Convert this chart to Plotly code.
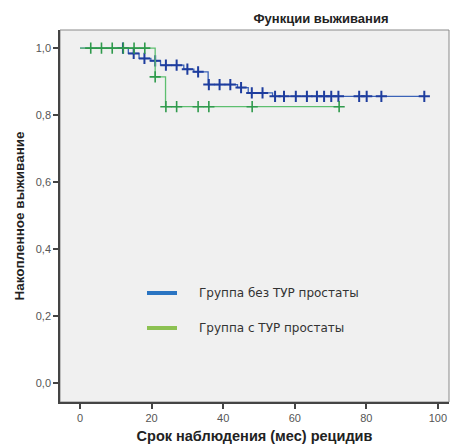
import plotly.graph_objects as go

# ---- data ----
blue_name = "Группа без ТУР простаты"
green_name = "Группа с ТУР простаты"

blue_step_t = [0, 13.5, 16.5, 19.8, 22.5, 29, 31.8, 35.8, 44, 47, 53.8, 96.2]
blue_step_s = [1.0, 0.984, 0.969, 0.962, 0.949, 0.937, 0.929, 0.891, 0.882, 0.866, 0.856, 0.856]
blue_cens_t = [12, 15, 18, 21, 24, 27, 30, 33, 36, 39, 42, 45, 48, 51,
               54.5, 57, 60.3, 63.4, 66.2, 68.2, 70.2, 72.2, 78, 80.1, 84.2, 96.2]

green_step_t = [0, 21, 23.9, 72.4]
green_step_s = [1.0, 0.914, 0.825, 0.825]
green_cens_t = [3, 6, 9, 12.1, 15.1, 18.1, 21, 24, 27, 33, 36, 48.1, 72.4]

y_tick_vals = [0.0, 0.2, 0.4, 0.6, 0.8, 1.0]
y_tick_text = ["0,0", "0,2", "0,4", "0,6", "0,8", "1,0"]
x_tick_vals = [0, 20, 40, 60, 80, 100]

title_text = "Функции выживания"
x_title = "Срок наблюдения (мес) рецидив"
y_title = "Накопленное выживание"


def step_at(ts, ss, t):
    v = ss[0]
    for ti, si in zip(ts, ss):
        if ti <= t:
            v = si
    return v


blue_line_c = "#3b63b8"
blue_mark_c = "#1e3d9e"
green_line_c = "#5dbf6f"
green_mark_c = "#2f9a4c"
legend_blue = "#2a74c2"
legend_green = "#8cc152"

fig = go.Figure()
fig.add_trace(go.Scatter(x=blue_step_t, y=blue_step_s, mode="lines", line_shape="hv",
                         line=dict(color=blue_line_c, width=1.3), showlegend=False, hoverinfo="skip"))
fig.add_trace(go.Scatter(x=blue_cens_t, y=[step_at(blue_step_t, blue_step_s, t) for t in blue_cens_t],
                         mode="markers", marker=dict(symbol="cross-thin", size=8,
                         line=dict(color=blue_mark_c, width=2.0)), showlegend=False))
fig.add_trace(go.Scatter(x=green_step_t, y=green_step_s, mode="lines", line_shape="hv",
                         line=dict(color=green_line_c, width=1.3), showlegend=False, hoverinfo="skip"))
fig.add_trace(go.Scatter(x=green_cens_t, y=[step_at(green_step_t, green_step_s, t) for t in green_cens_t],
                         mode="markers", marker=dict(symbol="cross-thin", size=8,
                         line=dict(color=green_mark_c, width=1.6)), showlegend=False))

W, H = 450, 444
L, R, T, B = 60, 1, 30, 42

shapes = []
annotations = []
legend_items = [(blue_name, legend_blue, 293), (green_name, legend_green, 328)]
for name, col, yy in legend_items:
    shapes.append(dict(type="line", xref="paper", yref="paper",
                       x0=(147 - L) / (W - L - R), x1=(177 - L) / (W - L - R),
                       y0=(H - B - yy) / (H - T - B), y1=(H - B - yy) / (H - T - B),
                       line=dict(color=col, width=4)))
    annotations.append(dict(text=name, xref="paper", yref="paper",
                            x=(197 - L) / (W - L - R), y=(H - B - yy) / (H - T - B),
                            xanchor="left", yanchor="middle", showarrow=False,
                            font=dict(family="DejaVu Sans", size=12, color="#333333")))

fig.update_layout(
    width=W, height=H,
    margin=dict(l=L, r=R, t=T, b=B, pad=0),
    paper_bgcolor="white",
    plot_bgcolor="#f0f0f0",
    font=dict(family="Liberation Sans, Arial", size=11, color="#444444"),
    title=dict(text="<b>" + title_text + "</b>", x=321 / W, xanchor="center", xref="container",
               y=1 - 18 / H, yanchor="middle", yref="container",
               font=dict(family="Liberation Sans, Arial", size=13, color="#222222")),
    shapes=shapes,
    annotations=annotations,
    showlegend=False,
)
fig.update_xaxes(range=[-5.59, 103.1], tickvals=x_tick_vals, ticks="outside", ticklen=5,
                 tickwidth=1.5, tickcolor="#444444", showgrid=False, zeroline=False,
                 showline=True, linecolor="#444444", linewidth=1.5, mirror=False,
                 tickfont=dict(size=11, color="#555555"),
                 title=dict(text="<b>" + x_title + "</b>", standoff=9,
                            font=dict(family="Liberation Sans, Arial", size=14.5, color="#222222")))
fig.update_yaxes(range=[-0.057, 1.054], tickvals=y_tick_vals, ticktext=y_tick_text, ticks="outside",
                 ticklen=5, tickwidth=1.5, tickcolor="#444444", showgrid=False, zeroline=False,
                 showline=True, linecolor="#444444", linewidth=1.5, mirror=False,
                 tickfont=dict(size=11, color="#555555"),
                 title=dict(text="<b>" + y_title + "</b>", standoff=8,
                            font=dict(family="Liberation Sans, Arial", size=13.5, color="#222222")))
# thin top/right frame
fig.add_shape(type="rect", xref="paper", yref="paper", x0=0, x1=1, y0=0, y1=1,
              line=dict(color="#8a8a8a", width=1), layer="below")

fig.write_html("out.html", config={"displayModeBar": False},
               post_script="document.body.style.margin='0';document.body.style.overflow='hidden';")
